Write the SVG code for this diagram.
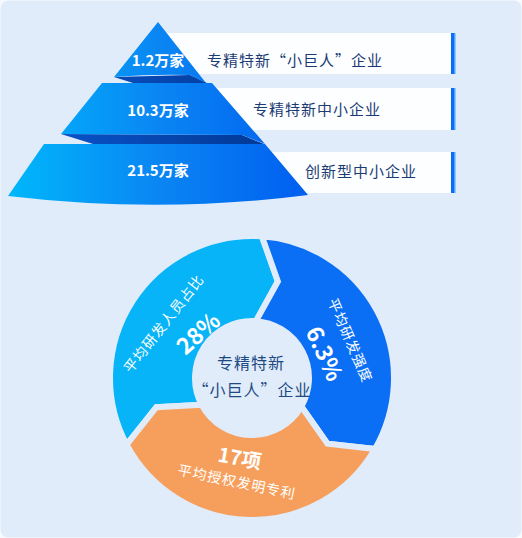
<svg xmlns="http://www.w3.org/2000/svg" width="522" height="538" viewBox="0 0 522 538">
<defs>
<linearGradient id="pyr" gradientUnits="userSpaceOnUse" x1="8" y1="0" x2="308" y2="0">
<stop offset="0" stop-color="#00b7fb"/>
<stop offset="0.5" stop-color="#0a86f3"/>
<stop offset="1" stop-color="#005ef0"/>
</linearGradient>
<linearGradient id="dark" gradientUnits="userSpaceOnUse" x1="60" y1="0" x2="265" y2="0">
<stop offset="0" stop-color="#0a52c8"/>
<stop offset="1" stop-color="#023a96"/>
</linearGradient>
<style>
.bar{fill:#fdfeff}
.acc{fill:#0b6ff4}
.acc2{fill:#4aa5ff}
.tl{font-family:"Noto Sans CJK SC","Noto Sans",sans-serif;font-size:15px;font-weight:bold;fill:#ffffff;text-anchor:middle}
.bl{font-family:"Noto Sans CJK SC","Noto Sans",sans-serif;font-size:15px;fill:#1c3b73;letter-spacing:1px}
.seg{stroke:#e1ecfb;stroke-width:6;stroke-linejoin:miter}
.ct{font-family:"Noto Sans CJK SC","Noto Sans",sans-serif;font-size:16px;fill:#1e4a82;text-anchor:middle;letter-spacing:1px}
.sl{font-family:"Noto Sans CJK SC","Noto Sans",sans-serif;font-size:14px;fill:#ffffff;text-anchor:middle;letter-spacing:1px;dominant-baseline:central}
.sn{font-family:"Noto Sans CJK SC","Noto Sans",sans-serif;font-weight:bold;fill:#ffffff;text-anchor:middle;dominant-baseline:central}
</style>
</defs>
<rect x="0" y="0" width="522" height="538" fill="#f7faff"/>
<rect x="0.5" y="0.5" width="521" height="537" rx="8" fill="#e1ecfb"/>

<g id="bars">
<g id="bar1"><rect class="bar" x="150" y="33" width="301" height="41"/><rect class="acc" x="451" y="33" width="3" height="41"/><rect class="acc2" x="454" y="33" width="1.5" height="41"/>
<text class="bl" x="207" y="65.5">专精特新“小巨人”企业</text></g>
<g id="bar2"><rect class="bar" x="180" y="88" width="271" height="42"/><rect class="acc" x="451" y="88" width="3" height="42"/><rect class="acc2" x="454" y="88" width="1.5" height="42"/>
<text class="bl" x="253" y="115">专精特新中小企业</text></g>
<g id="bar3"><rect class="bar" x="200" y="152" width="251" height="41"/><rect class="acc" x="451" y="152" width="3" height="41"/><rect class="acc2" x="454" y="152" width="1.5" height="41"/>
<text class="bl" x="305" y="177">创新型中小企业</text></g>
</g>

<g id="pyramid">
<g id="tier3"><path d="M44,144 L265,144 L308,195 Q160,214 8,196 Z" fill="url(#pyr)"/>
<text class="tl" x="158" y="176">21.5万家</text></g>
<path d="M61,134 L242,135 L264,144 L93,144 Z" fill="url(#dark)"/>
<g id="tier2"><path d="M102,83 L212,83 L265,144 L242,135 L61,134 Z" fill="url(#pyr)"/>
<text class="tl" x="158" y="115.5">10.3万家</text></g>
<path d="M114,77 L190,75 L207,83 L133,83 Z" fill="url(#dark)"/>
<g id="tier1"><path d="M158,22 L206,83 L190,75 Q152,74 114,77 Z" fill="url(#pyr)"/>
<text class="tl" x="158" y="65.5">1.2万家</text></g>
</g>

<g id="cycle">
<g id="seg-cyan"><path class="seg" fill="#07b4f8" d="M126.62,444.66 A142,142 0 0 1 261.91,236.35 L277.88,281.41 L255.98,321.14 A57,57 0 0 0 201.67,404.76 L156.37,407.24 Z"/>
<text class="sl" transform="translate(163,323) rotate(-52)">平均研发人员占比</text>
<text class="sn" font-size="23" transform="translate(197,332) rotate(-42)">28%</text></g>
<g id="seg-blue"><path class="seg" fill="#0a6ff5" d="M261.91,236.35 A142,142 0 0 1 374.98,449 L327.47,443.61 L301.36,406.5 A57,57 0 0 0 255.98,321.14 L277.88,281.41 Z"/>
<text class="sl" transform="translate(351,340) rotate(66.5)">平均研发强度</text>
<text class="sn" font-size="23" transform="translate(326,353) rotate(66)">6.3%</text></g>
<g id="seg-orange"><path class="seg" fill="#f69f5c" d="M374.98,449 A142,142 0 0 1 126.62,444.66 L156.37,407.24 L201.67,404.76 A57,57 0 0 0 301.36,406.5 L327.47,443.61 Z"/>
<text class="sn" font-size="20" transform="translate(240,457) rotate(10)">17项</text>
<text class="sl" transform="translate(237,481) rotate(12)">平均授权发明专利</text></g>
<g id="center"><text class="ct" x="251" y="369">专精特新</text>
<text class="ct" x="252" y="396">“小巨人”企业</text></g>
</g>
</svg>
